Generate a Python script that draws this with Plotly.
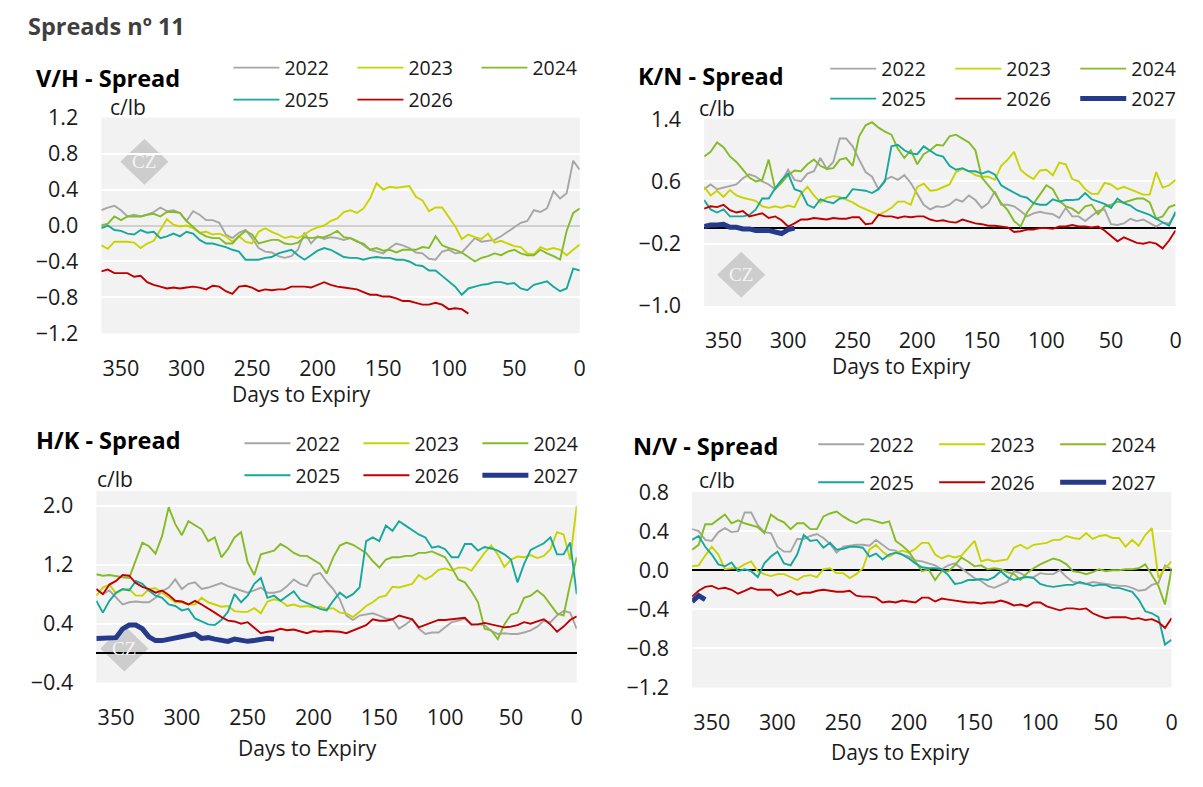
import plotly.graph_objects as go

# days to expiry, shared x grid for every series (5-day steps)
DAYS = list(range(365, -1, -5))
YEARS = ["2022", "2023", "2024", "2025", "2026", "2027"]
X_TICKS = [350, 300, 250, 200, 150, 100, 50, 0]

# ---- V/H spread ----
VH_2022 = [0.17, 0.20, 0.22, 0.17, 0.10, 0.12, 0.10, 0.12, 0.15, 0.20,
           0.16, 0.17, 0.14, 0.05, 0.16, 0.12, 0.06, 0.06, 0.03, -0.10,
           -0.14, -0.08, -0.05, -0.14, -0.25, -0.29, -0.30, -0.34, -0.36, -0.34,
           -0.27, -0.08, -0.20, -0.12, -0.15, -0.13, -0.14, -0.16, -0.14, -0.17,
           -0.22, -0.27, -0.29, -0.31, -0.25, -0.20, -0.22, -0.25, -0.30, -0.31,
           -0.37, -0.38, -0.29, -0.27, -0.31, -0.30, -0.22, -0.14, -0.18, -0.17,
           -0.16, -0.12, -0.07, -0.02, 0.03, 0.05, 0.17, 0.15, 0.19, 0.38,
           0.30, 0.36, 0.72, 0.62]
VH_2023 = [-0.22, -0.26, -0.18, -0.18, -0.18, -0.19, -0.25, -0.20, -0.17, -0.05,
           0.07, 0.01, -0.01, 0.00, -0.03, -0.08, -0.07, -0.10, -0.09, -0.12,
           -0.18, -0.12, -0.18, -0.20, -0.07, -0.03, -0.07, -0.10, -0.14, -0.12,
           -0.14, -0.10, -0.05, -0.02, 0.00, 0.05, 0.08, 0.15, 0.17, 0.14,
           0.19, 0.30, 0.47, 0.40, 0.43, 0.42, 0.43, 0.44, 0.32, 0.28,
           0.16, 0.20, 0.20, 0.10, -0.01, -0.15, -0.10, -0.13, -0.15, -0.09,
           -0.19, -0.17, -0.20, -0.23, -0.24, -0.31, -0.32, -0.24, -0.27, -0.25,
           -0.27, -0.33, -0.27, -0.21]
VH_2024 = [0.00, 0.02, 0.10, 0.06, 0.10, 0.10, 0.10, 0.12, 0.13, 0.10,
           0.15, 0.15, 0.14, 0.05, -0.01, -0.08, -0.12, -0.14, -0.14, -0.20,
           -0.20, -0.12, -0.06, -0.10, -0.20, -0.18, -0.16, -0.16, -0.20, -0.21,
           -0.19, -0.13, -0.14, -0.13, -0.13, -0.10, -0.06, -0.13, -0.14, -0.18,
           -0.20, -0.27, -0.25, -0.28, -0.27, -0.30, -0.27, -0.27, -0.27, -0.24,
           -0.25, -0.12, -0.22, -0.25, -0.27, -0.30, -0.35, -0.40, -0.36, -0.34,
           -0.31, -0.33, -0.29, -0.27, -0.31, -0.33, -0.33, -0.27, -0.31, -0.34,
           -0.38, -0.06, 0.14, 0.19]
VH_2025 = [-0.03, 0.00, -0.05, -0.06, -0.09, -0.10, -0.05, -0.08, -0.07, -0.14,
           -0.12, -0.09, -0.12, -0.07, -0.09, -0.16, -0.20, -0.20, -0.22, -0.24,
           -0.27, -0.29, -0.38, -0.38, -0.38, -0.36, -0.35, -0.31, -0.29, -0.27,
           -0.33, -0.38, -0.33, -0.28, -0.25, -0.27, -0.31, -0.35, -0.36, -0.36,
           -0.38, -0.36, -0.35, -0.36, -0.36, -0.38, -0.38, -0.40, -0.44, -0.45,
           -0.50, -0.50, -0.56, -0.62, -0.68, -0.77, -0.70, -0.68, -0.66, -0.65,
           -0.63, -0.63, -0.65, -0.64, -0.70, -0.72, -0.66, -0.64, -0.62, -0.68,
           -0.73, -0.70, -0.48, -0.50]
VH_2026 = [-0.51, -0.49, -0.53, -0.53, -0.53, -0.57, -0.56, -0.63, -0.66, -0.68,
           -0.70, -0.69, -0.70, -0.69, -0.68, -0.69, -0.71, -0.67, -0.68, -0.73,
           -0.76, -0.68, -0.67, -0.69, -0.73, -0.71, -0.72, -0.71, -0.71, -0.68,
           -0.68, -0.68, -0.69, -0.66, -0.63, -0.66, -0.68, -0.69, -0.70, -0.71,
           -0.74, -0.77, -0.77, -0.79, -0.79, -0.81, -0.84, -0.84, -0.86, -0.88,
           -0.88, -0.86, -0.88, -0.93, -0.92, -0.93, -0.98]

# ---- K/N spread ----
KN_2022 = [0.50, 0.56, 0.50, 0.52, 0.54, 0.56, 0.64, 0.69, 0.66, 0.60,
           0.56, 0.50, 0.60, 0.75, 0.62, 0.60, 0.70, 0.73, 0.90, 0.76,
           0.85, 1.15, 1.15, 1.05, 0.88, 0.72, 0.66, 0.50, 0.62, 0.66,
           0.62, 0.68, 0.58, 0.44, 0.30, 0.24, 0.28, 0.27, 0.30, 0.37,
           0.34, 0.42, 0.36, 0.26, 0.32, 0.47, 0.30, 0.30, 0.28, 0.22,
           0.15, 0.19, 0.21, 0.19, 0.18, 0.13, 0.26, 0.15, 0.15, 0.09,
           0.15, 0.22, 0.24, 0.05, 0.04, 0.06, 0.12, 0.09, 0.11, 0.07,
           0.02, 0.07, 0.06, 0.18]
KN_2023 = [0.53, 0.42, 0.48, 0.40, 0.49, 0.42, 0.39, 0.37, 0.35, 0.28,
           0.26, 0.28, 0.26, 0.29, 0.27, 0.44, 0.53, 0.42, 0.33, 0.39,
           0.41, 0.40, 0.37, 0.33, 0.28, 0.24, 0.21, 0.17, 0.21, 0.26,
           0.34, 0.34, 0.30, 0.53, 0.57, 0.48, 0.49, 0.53, 0.56, 0.72,
           0.76, 0.73, 0.68, 0.66, 0.66, 0.62, 0.80, 0.88, 0.98, 0.75,
           0.68, 0.63, 0.74, 0.75, 0.68, 0.84, 0.82, 0.63, 0.60, 0.50,
           0.44, 0.44, 0.58, 0.56, 0.50, 0.53, 0.50, 0.47, 0.43, 0.43,
           0.72, 0.52, 0.55, 0.62]
KN_2024 = [0.92, 0.98, 1.10, 1.04, 0.92, 0.85, 0.75, 0.65, 0.60, 0.62,
           0.88, 0.50, 0.58, 0.68, 0.74, 0.73, 0.82, 0.88, 0.80, 0.76,
           0.77, 0.88, 0.90, 0.80, 1.18, 1.32, 1.36, 1.29, 1.24, 1.20,
           1.02, 0.90, 1.00, 0.82, 0.95, 1.00, 1.07, 1.06, 1.18, 1.20,
           1.15, 1.10, 1.00, 0.65, 0.55, 0.45, 0.32, 0.23, 0.09, 0.02,
           0.20, 0.31, 0.43, 0.55, 0.50, 0.35, 0.28, 0.25, 0.19, 0.28,
           0.30, 0.18, 0.28, 0.30, 0.34, 0.33, 0.36, 0.38, 0.38, 0.33,
           0.12, 0.15, 0.27, 0.30]
KN_2025 = [0.36, 0.24, 0.20, 0.24, 0.15, 0.15, 0.15, 0.17, 0.24, 0.38,
           0.38, 0.51, 0.62, 0.70, 0.50, 0.47, 0.30, 0.26, 0.37, 0.34,
           0.32, 0.38, 0.39, 0.50, 0.49, 0.48, 0.45, 0.50, 0.60, 1.05,
           1.07, 1.00, 0.96, 0.95, 1.05, 1.00, 0.94, 0.92, 0.80, 0.75,
           0.77, 0.73, 0.73, 0.70, 0.73, 0.69, 0.55, 0.50, 0.45, 0.41,
           0.39, 0.32, 0.30, 0.30, 0.37, 0.34, 0.36, 0.36, 0.37, 0.45,
           0.37, 0.34, 0.31, 0.26, 0.38, 0.32, 0.29, 0.23, 0.20, 0.17,
           0.12, 0.07, 0.03, 0.21]
KN_2026 = [0.25, 0.28, 0.27, 0.30, 0.23, 0.20, 0.22, 0.15, 0.17, 0.19,
           0.13, 0.15, 0.10, 0.02, 0.06, 0.11, 0.11, 0.13, 0.12, 0.11,
           0.13, 0.12, 0.12, 0.14, 0.14, 0.05, 0.06, 0.17, 0.15, 0.15,
           0.13, 0.15, 0.14, 0.15, 0.15, 0.11, 0.09, 0.10, 0.08, 0.07,
           0.11, 0.08, 0.06, 0.05, 0.03, 0.03, 0.02, 0.01, -0.05, -0.04,
           -0.02, -0.02, 0.00, 0.00, -0.01, 0.02, 0.02, 0.04, 0.02, 0.02,
           0.01, 0.02, -0.03, -0.10, -0.17, -0.12, -0.16, -0.19, -0.20, -0.18,
           -0.20, -0.26, -0.16, -0.03]
KN_2027 = [0.02, 0.04, 0.04, 0.05, 0.01, 0.01, -0.01, -0.01, -0.03, -0.03,
           -0.03, -0.05, -0.07, -0.02, 0.00]

# ---- H/K spread ----
HK_2022 = [0.87, 0.80, 0.85, 0.75, 0.66, 0.69, 0.70, 0.69, 0.69, 0.75,
           0.84, 0.89, 1.00, 0.87, 0.94, 0.96, 0.87, 0.89, 0.92, 0.95,
           0.91, 0.88, 0.85, 0.82, 0.85, 0.89, 0.82, 0.82, 0.84, 0.91,
           1.00, 0.94, 0.91, 1.06, 1.09, 0.97, 0.87, 0.73, 0.51, 0.45,
           0.51, 0.53, 0.54, 0.51, 0.47, 0.46, 0.33, 0.39, 0.46, 0.33,
           0.26, 0.28, 0.28, 0.35, 0.42, 0.44, 0.47, 0.38, 0.39, 0.38,
           0.30, 0.26, 0.27, 0.26, 0.26, 0.28, 0.31, 0.36, 0.44, 0.42,
           0.51, 0.57, 0.55, 0.33]
HK_2023 = [0.78, 0.89, 0.93, 0.81, 0.86, 0.87, 0.78, 0.78, 0.87, 0.88,
           0.82, 0.75, 0.69, 0.69, 0.66, 0.66, 0.75, 0.69, 0.66, 0.63,
           0.64, 0.57, 0.56, 0.56, 0.61, 0.54, 0.70, 0.73, 0.71, 0.64,
           0.66, 0.63, 0.64, 0.62, 0.63, 0.60, 0.61, 0.55, 0.54, 0.49,
           0.56, 0.64, 0.69, 0.76, 0.78, 0.90, 0.89, 0.91, 0.94, 1.06,
           1.00, 1.05, 1.13, 1.15, 1.12, 1.16, 1.16, 1.12, 1.24, 1.36,
           1.46, 1.34, 1.17, 1.27, 1.31, 1.30, 1.33, 1.29, 1.32, 1.41,
           1.64, 1.61, 1.27, 2.00]
HK_2024 = [1.07, 1.05, 1.06, 1.04, 1.03, 1.02, 1.27, 1.50, 1.45, 1.35,
           1.59, 1.98, 1.75, 1.60, 1.79, 1.73, 1.68, 1.52, 1.57, 1.30,
           1.41, 1.57, 1.64, 1.23, 1.06, 1.34, 1.36, 1.39, 1.48, 1.43,
           1.36, 1.32, 1.32, 1.27, 1.21, 1.08, 1.30, 1.46, 1.50, 1.47,
           1.42, 1.36, 1.25, 1.16, 1.27, 1.30, 1.30, 1.32, 1.32, 1.36,
           1.36, 1.38, 1.34, 1.30, 1.16, 1.00, 0.96, 0.84, 0.69, 0.33,
           0.31, 0.19, 0.39, 0.52, 0.55, 0.75, 0.78, 0.85, 0.78, 0.66,
           0.54, 0.51, 0.94, 1.30]
HK_2025 = [0.71, 0.55, 0.71, 0.82, 0.87, 0.85, 0.98, 0.94, 0.85, 0.78,
           0.75, 0.66, 0.64, 0.58, 0.60, 0.47, 0.43, 0.39, 0.38, 0.45,
           0.56, 0.80, 0.69, 0.78, 0.94, 1.02, 0.75, 0.78, 0.71, 0.78,
           0.84, 0.72, 0.68, 0.64, 0.60, 0.58, 0.71, 0.82, 0.75, 0.80,
           0.89, 1.52, 1.57, 1.52, 1.73, 1.66, 1.79, 1.73, 1.67, 1.61,
           1.57, 1.43, 1.45, 1.41, 1.30, 1.30, 1.48, 1.48, 1.39, 1.44,
           1.42, 1.39, 1.34, 1.27, 0.96, 1.21, 1.40, 1.44, 1.49, 1.57,
           1.34, 1.34, 1.50, 0.80]
HK_2026 = [0.87, 0.80, 0.93, 0.98, 1.06, 1.05, 0.95, 0.90, 0.87, 0.82,
           0.85, 0.79, 0.71, 0.70, 0.66, 0.71, 0.66, 0.61, 0.55, 0.49,
           0.44, 0.43, 0.40, 0.42, 0.35, 0.27, 0.29, 0.30, 0.33, 0.31,
           0.32, 0.29, 0.27, 0.30, 0.29, 0.30, 0.30, 0.29, 0.27, 0.31,
           0.35, 0.38, 0.46, 0.44, 0.44, 0.46, 0.51, 0.49, 0.46, 0.35,
           0.38, 0.42, 0.45, 0.45, 0.46, 0.48, 0.48, 0.39, 0.39, 0.41,
           0.39, 0.38, 0.35, 0.36, 0.38, 0.42, 0.40, 0.43, 0.46, 0.39,
           0.29, 0.36, 0.45, 0.50]
HK_2027 = [0.20, 0.20, 0.20, 0.21, 0.33, 0.38, 0.38, 0.33, 0.22, 0.17,
           0.17, 0.19, 0.21, 0.22, 0.24, 0.26, 0.20, 0.21, 0.19, 0.18,
           0.16, 0.19, 0.17, 0.16, 0.17, 0.18, 0.20, 0.19]

# ---- N/V spread ----
NV_2022 = [0.42, 0.40, 0.31, 0.30, 0.39, 0.43, 0.39, 0.40, 0.59, 0.59,
           0.46, 0.39, 0.38, 0.24, 0.19, 0.19, 0.32, 0.32, 0.35, 0.37,
           0.33, 0.27, 0.18, 0.24, 0.25, 0.26, 0.26, 0.25, 0.31, 0.26,
           0.21, 0.20, 0.16, 0.14, 0.10, 0.09, 0.07, 0.05, 0.01, 0.05,
           0.07, 0.02, -0.03, -0.08, -0.11, -0.16, -0.18, -0.15, -0.12, -0.01,
           -0.03, -0.07, -0.07, -0.03, -0.04, -0.04, 0.00, -0.07, -0.12, -0.13,
           -0.14, -0.12, -0.13, -0.14, -0.15, -0.16, -0.16, -0.18, -0.21, -0.20,
           -0.15, -0.13, 0.05, 0.01]
NV_2023 = [0.04, 0.05, 0.15, 0.24, 0.16, 0.01, 0.02, 0.02, 0.06, 0.09,
           -0.01, -0.04, -0.06, -0.04, -0.04, -0.07, -0.10, -0.06, -0.05, -0.07,
           0.01, 0.02, -0.03, -0.03, -0.08, -0.04, 0.02, 0.21, 0.26, 0.19,
           0.14, 0.18, 0.20, 0.18, 0.22, 0.28, 0.28, 0.16, 0.12, 0.15,
           0.13, 0.15, 0.23, 0.30, 0.09, 0.11, 0.09, 0.10, 0.11, 0.23,
           0.26, 0.22, 0.26, 0.27, 0.28, 0.31, 0.31, 0.35, 0.33, 0.32,
           0.38, 0.32, 0.35, 0.36, 0.33, 0.33, 0.24, 0.31, 0.25, 0.36,
           0.43, -0.08, 0.02, 0.09]
NV_2024 = [0.21, 0.26, 0.47, 0.47, 0.52, 0.57, 0.48, 0.51, 0.48, 0.46,
           0.44, 0.38, 0.57, 0.52, 0.49, 0.42, 0.48, 0.48, 0.42, 0.42,
           0.55, 0.58, 0.60, 0.55, 0.51, 0.48, 0.52, 0.52, 0.50, 0.48,
           0.50, 0.30, 0.25, 0.19, 0.09, -0.01, 0.01, -0.10, -0.01, -0.01,
           0.05, 0.13, 0.09, 0.04, 0.05, 0.01, 0.02, 0.01, -0.02, -0.04,
           -0.10, -0.03, 0.02, 0.06, 0.09, 0.12, 0.10, 0.06, -0.01, -0.02,
           -0.04, -0.02, 0.01, -0.01, 0.00, 0.00, 0.01, 0.01, 0.02, 0.06,
           -0.05, -0.16, -0.35, 0.01]
NV_2025 = [0.31, 0.35, 0.24, 0.16, 0.06, 0.04, 0.08, -0.01, 0.01, -0.01,
           -0.07, 0.07, 0.14, 0.19, 0.07, 0.05, 0.16, 0.36, 0.30, 0.31,
           0.23, 0.28, 0.21, 0.22, 0.24, 0.24, 0.23, 0.14, 0.17, 0.11,
           0.16, 0.18, 0.16, 0.12, 0.07, 0.03, 0.02, 0.02, 0.01, -0.05,
           -0.14, -0.13, -0.10, -0.10, -0.09, -0.10, -0.07, -0.01, -0.07, -0.10,
           -0.08, -0.07, -0.08, -0.14, -0.16, -0.17, -0.16, -0.15, -0.15, -0.12,
           -0.14, -0.16, -0.15, -0.15, -0.18, -0.18, -0.20, -0.22, -0.30, -0.42,
           -0.44, -0.48, -0.76, -0.71]
NV_2026 = [-0.27, -0.21, -0.17, -0.16, -0.19, -0.18, -0.20, -0.24, -0.21, -0.18,
           -0.20, -0.20, -0.20, -0.26, -0.24, -0.21, -0.25, -0.23, -0.23, -0.21,
           -0.20, -0.21, -0.22, -0.22, -0.21, -0.26, -0.27, -0.27, -0.28, -0.33,
           -0.32, -0.33, -0.31, -0.32, -0.33, -0.28, -0.28, -0.32, -0.29, -0.30,
           -0.31, -0.32, -0.33, -0.33, -0.34, -0.33, -0.33, -0.31, -0.33, -0.36,
           -0.35, -0.37, -0.33, -0.33, -0.37, -0.39, -0.41, -0.39, -0.39, -0.40,
           -0.39, -0.44, -0.47, -0.49, -0.48, -0.48, -0.48, -0.50, -0.49, -0.51,
           -0.50, -0.53, -0.59, -0.49]
NV_2027 = [-0.32, -0.26, -0.30]

COLORS = {"2022": "#a6a6a6", "2023": "#c8d400", "2024": "#84bb26",
          "2025": "#17a89d", "2026": "#c00000", "2027": "#263a8a"}

W, H = 1203, 787
# the photographed page comes out slightly scaled/offset; positions below
# are given in target-picture pixels and mapped back through this
SX, OX = 0.992, 2.0
SY, OY = 0.964, 15.0


def px(x):
    return (x - OX) / SX / W


def py(y):
    return 1 - (y - OY) / SY / H


# one dict per panel: series, y range/ticks, plot box (left, right, top,
# bottom), zero line colour, text anchors, legend (line x, row ys, step)
panels = [
    dict(name="V/H - Spread",
         series={"2022": VH_2022, "2023": VH_2023, "2024": VH_2024,
                 "2025": VH_2025, "2026": VH_2026},
         yrange=[-1.2, 1.2], yticks=[-1.2, -0.8, -0.4, 0.0, 0.4, 0.8, 1.2],
         box=(103, 580, 117.7, 333.7), zero="#d0d0d0",
         title_xy=(36, 78), unit_xy=(110, 107), axis_xy=(303, 394),
         legend=(234, 68, 100, 124)),
    dict(name="K/N - Spread",
         series={"2022": KN_2022, "2023": KN_2023, "2024": KN_2024,
                 "2025": KN_2025, "2026": KN_2026, "2027": KN_2027},
         yrange=[-1.0, 1.4], yticks=[-1.0, -0.2, 0.6, 1.4],
         box=(704, 1174, 119.2, 306.2), zero="#000000",
         title_xy=(636, 76), unit_xy=(697, 108), axis_xy=(901, 366),
         legend=(829, 69, 99, 125)),
    dict(name="H/K - Spread",
         series={"2022": HK_2022, "2023": HK_2023, "2024": HK_2024,
                 "2025": HK_2025, "2026": HK_2026, "2027": HK_2027},
         yrange=[-0.4, 2.2], yticks=[-0.4, 0.4, 1.2, 2.0],
         box=(98, 577, 491.4, 683.2), zero="#000000",
         title_xy=(36, 440), unit_xy=(97, 479), axis_xy=(309, 749),
         legend=(245, 444, 476, 119)),
    dict(name="N/V - Spread",
         series={"2022": NV_2022, "2023": NV_2023, "2024": NV_2024,
                 "2025": NV_2025, "2026": NV_2026, "2027": NV_2027},
         yrange=[-1.2, 0.8], yticks=[-1.2, -0.8, -0.4, 0.0, 0.4, 0.8],
         box=(692, 1170, 492.4, 688.2), zero="#000000",
         title_xy=(631, 446), unit_xy=(697, 480), axis_xy=(900, 753),
         legend=(817, 445, 483, 121)),
]

FONT = "Open Sans"
fig = go.Figure()
annotations = []
shapes = []
layout = {}

for i, p in enumerate(panels, start=1):
    sfx = "" if i == 1 else str(i)
    l, r, t, b = p["box"]
    for year, vals in p["series"].items():
        row = 0 if year in ("2022", "2023", "2024") else 1
        leg_idx = (i - 1) * 2 + row + 1
        leg = "legend" if leg_idx == 1 else f"legend{leg_idx}"
        thick = year == "2027"
        fig.add_trace(go.Scatter(
            x=DAYS[:len(vals)], y=vals, name=year, mode="lines",
            line=dict(color=COLORS[year], width=5 if thick else 1.9),
            xaxis=f"x{sfx}", yaxis=f"y{sfx}", legend=leg,
            hoverinfo="skip"))

    layout[f"xaxis{sfx}"] = dict(
        domain=[px(l), px(r)], range=[365, 0], anchor=f"y{sfx}",
        tickvals=X_TICKS, showgrid=False, zeroline=False, showline=False,
        ticks="", ticklabelstandoff=20,
        tickfont=dict(family=FONT, size=21.5, color="#1a1a1a"))
    layout[f"yaxis{sfx}"] = dict(
        domain=[py(b), py(t)], range=p["yrange"], anchor=f"x{sfx}",
        tickvals=p["yticks"], tickformat=".1f", showgrid=True,
        gridcolor="#ffffff", gridwidth=2, zeroline=True,
        zerolinecolor=p["zero"], zerolinewidth=2, showline=False,
        ticks="", ticklabelstandoff=22,
        tickfont=dict(family=FONT, size=21.5, color="#1a1a1a"))

    # legends: two rows of three entries each
    lx, ly1, ly2, step = p["legend"]
    for row, ly in enumerate((ly1, ly2)):
        leg_idx = (i - 1) * 2 + row + 1
        key = "legend" if leg_idx == 1 else f"legend{leg_idx}"
        layout[key] = dict(
            orientation="h", x=px(lx) - 4.3 / W, y=py(ly), xanchor="left",
            yanchor="middle", xref="paper", yref="paper",
            bgcolor="rgba(0,0,0,0)", entrywidth=step / SX - 62,
            itemwidth=46,
            font=dict(family=FONT, size=19.5, color="#1a1a1a"),
            traceorder="normal")

    tx, ty = p["title_xy"]
    annotations.append(dict(
        text=f"<b>{p['name']}</b>", x=px(tx), y=py(ty), xref="paper",
        yref="paper", xanchor="left", yanchor="middle", showarrow=False,
        font=dict(family=FONT, size=23.5, color="#000000")))
    ux, uy = p["unit_xy"]
    annotations.append(dict(
        text="c/lb", x=px(ux), y=py(uy), xref="paper", yref="paper",
        xanchor="left", yanchor="middle", showarrow=False,
        font=dict(family=FONT, size=21, color="#1a1a1a")))
    ax, ay = p["axis_xy"]
    annotations.append(dict(
        text="Days to Expiry", x=px(ax), y=py(ay), xref="paper",
        yref="paper", xanchor="center", yanchor="middle", showarrow=False,
        font=dict(family=FONT, size=21, color="#1a1a1a")))

# CZ watermark diamonds
for cx, cy in [(146, 162), (741, 275), (126, 649)]:
    hw, hh = 24, 23
    path = (f"M {px(cx)},{py(cy - hh)} L {px(cx + hw)},{py(cy)} "
            f"L {px(cx)},{py(cy + hh)} L {px(cx - hw)},{py(cy)} Z")
    shapes.append(dict(type="path", path=path, xref="paper", yref="paper",
                       fillcolor="#cdcdcd", line=dict(width=0),
                       layer="between"))
    annotations.append(dict(
        text="CZ", x=px(cx), y=py(cy), xref="paper", yref="paper",
        showarrow=False, xanchor="center", yanchor="middle",
        font=dict(family="Liberation Serif", size=19, color="#f4f4f4")))

annotations.append(dict(
    text="<b>Spreads nº 11</b>", x=px(28), y=py(26), xref="paper",
    yref="paper", xanchor="left", yanchor="middle", showarrow=False,
    font=dict(family=FONT, size=23.5, color="#3f3f3f")))

fig.update_layout(
    width=W, height=H, autosize=False,
    margin=dict(l=0, r=0, t=0, b=0),
    paper_bgcolor="#ffffff", plot_bgcolor="#f2f2f2",
    font=dict(family=FONT, color="#1a1a1a"),
    annotations=annotations, shapes=shapes,
    **layout)

# pin the figure to the window's top-left corner, no page margin/scrollbars
PIN = ("document.body.style.margin='0px';"
       "document.body.style.overflow='hidden';"
       "var d=document.getElementById('{plot_id}');"
       "d.style.position='fixed';d.style.left='0px';d.style.top='0px';")
fig.write_html("out.html", config={"displayModeBar": False},
               post_script=PIN)
